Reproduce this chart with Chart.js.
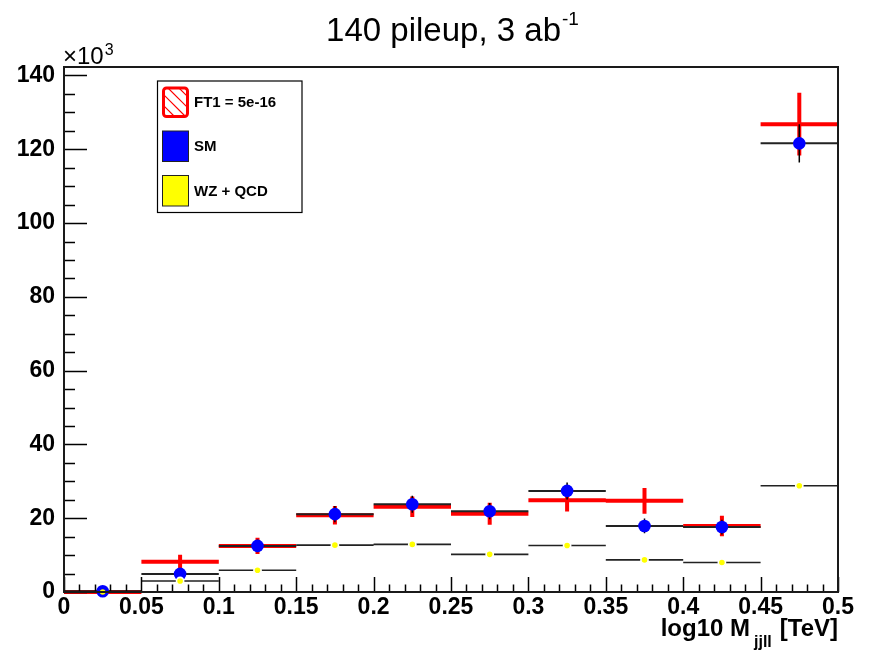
<!DOCTYPE html>
<html>
<head>
<meta charset="utf-8">
<script src="https://cdn.jsdelivr.net/npm/chart.js@4/dist/chart.umd.min.js"></script>
<style>
  html, body { margin: 0; padding: 0; background: #ffffff; }
  #wrap { width: 871px; height: 652px; }
</style>
</head>
<body>
<div id="wrap"><canvas id="c" width="871" height="652"></canvas></div>
<script>
// ---------------- data ----------------
const binLow    = [0.00, 0.05, 0.10, 0.15, 0.20, 0.25, 0.30, 0.35, 0.40, 0.45];
const binHigh   = [0.05, 0.10, 0.15, 0.20, 0.25, 0.30, 0.35, 0.40, 0.45, 0.50];
const binCentre = [0.025, 0.075, 0.125, 0.175, 0.225, 0.275, 0.325, 0.375, 0.425, 0.475];

const seriesNames = ['FT1 = 5e-16', 'SM', 'WZ + QCD'];

// values in units of 10^3 events
const ft1Vals = [0.0, 8.2, 12.5, 20.8, 23.1, 21.2, 24.9, 24.7, 17.9, 126.8];
const ft1Errs = [0.1, 1.9, 2.2, 2.5, 2.8, 3.0, 3.1, 3.5, 2.8, 8.5];
const smVals  = [0.2, 4.9, 12.5, 21.1, 23.8, 21.9, 27.4, 17.9, 17.6, 121.6];
const smErrs  = [0.2, 1.1, 1.7, 2.2, 2.3, 2.2, 2.3, 2.0, 2.0, 5.2];
const wzVals  = [0.0, 3.0, 5.9, 12.7, 12.9, 10.2, 12.6, 8.7, 8.0, 28.8];
const wzErrs  = [0.1, 0.4, 0.5, 0.7, 0.7, 0.6, 0.7, 0.6, 0.6, 1.1];

const xMajorTicks = [0, 0.05, 0.1, 0.15, 0.2, 0.25, 0.3, 0.35, 0.4, 0.45, 0.5];
const xTickLabels = ['0', '0.05', '0.1', '0.15', '0.2', '0.25', '0.3', '0.35', '0.4', '0.45', '0.5'];
const yMajorTicks = [0, 20, 40, 60, 80, 100, 120, 140];
const yTickLabels = ['0', '20', '40', '60', '80', '100', '120', '140'];
const yMax = 142.3;

const titleMain = '140 pileup, 3 ab';
const titleSup = '-1';
const xTitleMain = 'log10 M';
const xTitleSub = 'jjll';
const xTitleEnd = '[TeV]';
const yMultMain = '\u00d710';
const yMultSup = '3';

// ---------------- helpers ----------------
function stepSegments(vals) {
  const pts = [];
  vals.forEach((v, i) => {
    pts.push({x: binLow[i], y: v}, {x: binHigh[i], y: v}, {x: binHigh[i], y: null});
  });
  return pts;
}
function errSegments(vals, errs) {
  const pts = [];
  vals.forEach((v, i) => {
    pts.push({x: binCentre[i], y: v - errs[i]}, {x: binCentre[i], y: v + errs[i]}, {x: binCentre[i], y: null});
  });
  return pts;
}
function points(vals) {
  return vals.map((v, i) => ({x: binCentre[i], y: v}));
}
function minorTicks(majors, n) {
  const out = [];
  for (let j = 0; j < majors.length - 1; j++) {
    for (let k = 0; k < n; k++) out.push(+(majors[j] + k * (majors[j + 1] - majors[j]) / n).toFixed(6));
  }
  out.push(majors[majors.length - 1]);
  return out;
}
function labelFor(value, majors, labels) {
  for (let i = 0; i < majors.length; i++) if (Math.abs(value - majors[i]) < 1e-9) return labels[i];
  return '';
}

const FONT = '"Liberation Sans", Arial, Helvetica, sans-serif';
const RED = '#ff0000', BLUE = '#0000ff', YEL = '#ffff00', LINE = '#222222';

const lineBase = {type: 'line', pointRadius: 0, pointHoverRadius: 0, spanGaps: false, fill: false, tension: 0, clip: false, borderCapStyle: 'butt'};

const datasets = [
  // FT1 (red, thick) - bottom
  Object.assign({}, lineBase, {label: seriesNames[0], data: stepSegments(ft1Vals), borderColor: RED, borderWidth: 4, order: 10}),
  Object.assign({}, lineBase, {label: seriesNames[0] + ' err', data: errSegments(ft1Vals, ft1Errs), borderColor: RED, borderWidth: 4, order: 9}),
  // SM
  Object.assign({}, lineBase, {label: seriesNames[1] + ' bins', data: stepSegments(smVals), borderColor: LINE, borderWidth: 2, order: 8}),
  Object.assign({}, lineBase, {label: seriesNames[1] + ' err', data: errSegments(smVals, smErrs), borderColor: '#000000', borderWidth: 1.5, order: 7}),
  {type: 'scatter', label: seriesNames[1], data: points(smVals), pointRadius: 6.3, pointBorderWidth: 0,
   pointBackgroundColor: BLUE, pointBorderColor: BLUE, clip: false, order: 6},
  // WZ + QCD
  Object.assign({}, lineBase, {label: seriesNames[2] + ' bins', data: stepSegments(wzVals), borderColor: LINE, borderWidth: 1.6, order: 5}),
  Object.assign({}, lineBase, {label: seriesNames[2] + ' err', data: errSegments(wzVals, wzErrs), borderColor: '#777777', borderWidth: 1, order: 4.5}),
  {type: 'scatter', label: seriesNames[2], data: points(wzVals), pointRadius: 3.6, pointBorderWidth: 1.6,
   pointBackgroundColor: YEL,
   pointBorderColor: (c) => (Math.abs(smVals[c.dataIndex] - wzVals[c.dataIndex]) < 1 ? BLUE : '#ffffff'),
   clip: false, order: 4},
];

// ---------------- decoration plugin ----------------
const rootDecor = {
  id: 'rootDecor',
  afterDatasetsDraw(chart) {
    const {ctx, chartArea: a, scales} = chart;
    const x = scales.x, y = scales.y;
    ctx.save();
    // inward ticks
    ctx.strokeStyle = '#000000';
    ctx.lineWidth = 1.5;
    ctx.beginPath();
    x.ticks.forEach((t) => {
      const px = Math.round(x.getPixelForValue(t.value)) + 0.5;
      const major = labelFor(t.value, xMajorTicks, xTickLabels) !== '';
      ctx.moveTo(px, a.bottom);
      ctx.lineTo(px, a.bottom - (major ? 15 : 7.5));
    });
    y.ticks.forEach((t) => {
      const py = Math.round(y.getPixelForValue(t.value)) + 0.5;
      const major = labelFor(t.value, yMajorTicks, yTickLabels) !== '';
      ctx.moveTo(a.left, py);
      ctx.lineTo(a.left + (major ? 23 : 11), py);
    });
    ctx.stroke();
    // frame
    ctx.lineWidth = 2;
    ctx.strokeStyle = '#1a1a1a';
    ctx.strokeRect(a.left, a.top, a.right - a.left, a.bottom - a.top);
    ctx.restore();
  },
  afterDraw(chart) {
    const {ctx, chartArea: a} = chart;
    ctx.save();
    ctx.fillStyle = '#000000';
    ctx.textBaseline = 'alphabetic';
    ctx.textAlign = 'left';

    // title
    ctx.font = '33px ' + FONT;
    const wMain = ctx.measureText(titleMain).width;
    ctx.font = '19px ' + FONT;
    const wSup = ctx.measureText(titleSup).width;
    const tx = 452 - (wMain + wSup) / 2;
    ctx.font = '33px ' + FONT;
    ctx.fillText(titleMain, tx, 41);
    ctx.font = '19px ' + FONT;
    ctx.fillText(titleSup, tx + wMain + 1, 25);

    // x10^3
    ctx.font = '24px ' + FONT;
    ctx.fillText(yMultMain, a.left - 1, 64);
    const wm = ctx.measureText(yMultMain).width;
    ctx.font = '16px ' + FONT;
    ctx.fillText(yMultSup, a.left - 1 + wm + 1, 55);

    // x-axis title (right aligned to frame)
    ctx.font = 'bold 24px ' + FONT;
    const w1 = ctx.measureText(xTitleMain).width;
    const w3 = ctx.measureText(xTitleEnd).width;
    ctx.font = 'bold 16px ' + FONT;
    const w2 = ctx.measureText(xTitleSub).width;
    const gapA = 4, gapB = 8;
    const xEnd = a.right;
    const x0 = xEnd - (w1 + gapA + w2 + gapB + w3);
    ctx.font = 'bold 24px ' + FONT;
    ctx.fillText(xTitleMain, x0, 636);
    ctx.fillText(xTitleEnd, x0 + w1 + gapA + w2 + gapB, 636);
    ctx.font = 'bold 16px ' + FONT;
    ctx.fillText(xTitleSub, x0 + w1 + gapA, 647);

    // legend
    const L = {x: 157.5, y: 81, w: 144.5, h: 131.5};
    ctx.fillStyle = '#ffffff';
    ctx.fillRect(L.x, L.y, L.w, L.h);
    ctx.lineWidth = 1.2;
    ctx.strokeStyle = '#000000';
    ctx.strokeRect(L.x, L.y, L.w, L.h);

    const sw = {x: 162.5, w: 26, h: 30.5};
    const rows = [{y: 87}, {y: 131}, {y: 175.5}];
    // red hatched swatch
    (function () {
      const r = rows[0];
      const rx = sw.x + 1, ry = r.y + 1, rw = sw.w - 2, rh = sw.h - 2;
      ctx.save();
      ctx.beginPath();
      if (ctx.roundRect) ctx.roundRect(rx, ry, rw, rh, 3); else ctx.rect(rx, ry, rw, rh);
      ctx.fillStyle = '#ffffff';
      ctx.fill();
      ctx.save();
      ctx.clip();
      ctx.strokeStyle = RED;
      ctx.lineWidth = 1.2;
      ctx.beginPath();
      for (let d = -rh; d < rw + rh; d += 11) {
        ctx.moveTo(rx + d, ry);
        ctx.lineTo(rx + d + rh, ry + rh);
      }
      ctx.stroke();
      ctx.restore();
      ctx.beginPath();
      if (ctx.roundRect) ctx.roundRect(rx, ry, rw, rh, 3); else ctx.rect(rx, ry, rw, rh);
      ctx.strokeStyle = RED;
      ctx.lineWidth = 3;
      ctx.stroke();
      ctx.restore();
    })();
    // blue and yellow swatches
    [[rows[1], BLUE], [rows[2], YEL]].forEach(([r, col]) => {
      ctx.fillStyle = col;
      ctx.fillRect(sw.x, r.y, sw.w, sw.h);
      ctx.strokeStyle = '#222222';
      ctx.lineWidth = 1;
      ctx.strokeRect(sw.x, r.y, sw.w, sw.h);
    });
    ctx.fillStyle = '#000000';
    ctx.font = 'bold 15px ' + FONT;
    ctx.textBaseline = 'middle';
    rows.forEach((r, i) => ctx.fillText(seriesNames[i], 194, r.y + sw.h / 2 + 1));
    ctx.restore();
  }
};

// ---------------- chart ----------------
new Chart(document.getElementById('c'), {
  data: {datasets},
  options: {
    responsive: false,
    animation: false,
    devicePixelRatio: 1,
    events: [],
    layout: {padding: {top: 67, right: 33, left: 0, bottom: 0}},
    plugins: {legend: {display: false}, title: {display: false}, tooltip: {enabled: false}},
    scales: {
      x: {
        type: 'linear', min: 0, max: 0.5,
        grid: {display: false, drawTicks: false},
        border: {display: false},
        afterBuildTicks: (s) => { s.ticks = minorTicks(xMajorTicks, 5).map(v => ({value: v})); },
        afterFit: (s) => { s.height = 60; s.paddingLeft = 0; s.paddingRight = 0; },
        ticks: {
          autoSkip: false, maxRotation: 0, minRotation: 0, padding: 2,
          color: '#000000', font: {family: FONT, size: 23, weight: 'bold'},
          callback: (v) => labelFor(v, xMajorTicks, xTickLabels)
        }
      },
      y: {
        type: 'linear', min: 0, max: yMax,
        grid: {display: false, drawTicks: false},
        border: {display: false},
        afterBuildTicks: (s) => { s.ticks = minorTicks(yMajorTicks, 4).map(v => ({value: v})); },
        afterFit: (s) => { s.width = 64; s.paddingTop = 0; s.paddingBottom = 0; },
        ticks: {
          autoSkip: false, padding: 9,
          color: '#000000', font: {family: FONT, size: 23, weight: 'bold'},
          callback: (v) => labelFor(v, yMajorTicks, yTickLabels)
        }
      }
    }
  },
  plugins: [rootDecor]
});
</script>
</body>
</html>
